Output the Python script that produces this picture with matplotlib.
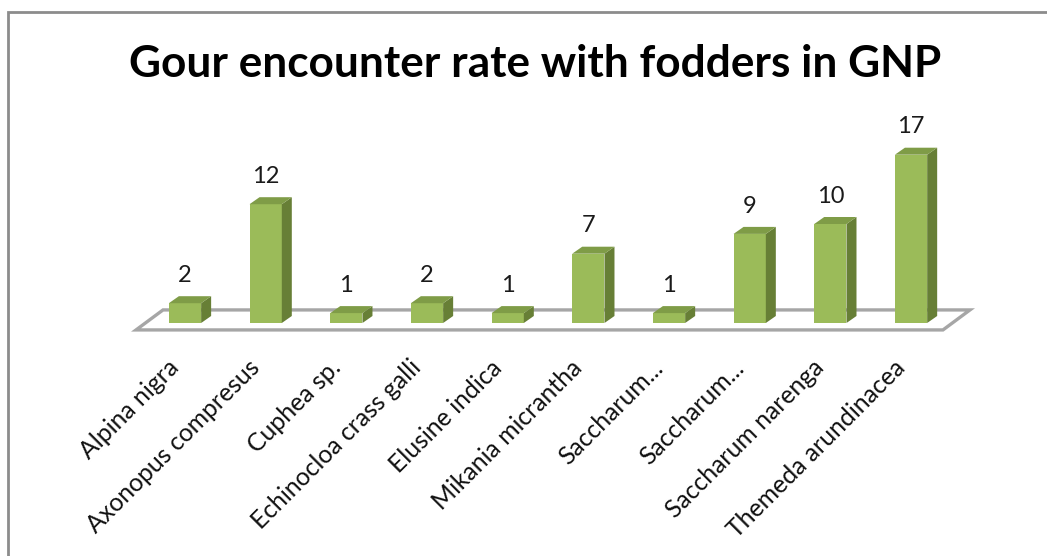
import matplotlib.pyplot as plt
from matplotlib.patches import Polygon, Rectangle
import numpy as np

# data
species = ["Alpina nigra", "Axonopus compresus", "Cuphea sp.", "Echinocloa crass galli",
           "Elusine indica", "Mikania micrantha", "Saccharum...", "Saccharum...",
           "Saccharum narenga", "Themeda arundinacea"]
encounters = [2, 12, 1, 2, 1, 7, 1, 9, 10, 17]
title = "Gour encounter rate with fodders in GNP"

plt.rcParams['font.family'] = ['Lato', 'DejaVu Sans']

W, H = 1047, 556
fig = plt.figure(figsize=(W / 100, H / 100), dpi=100)
ax = fig.add_axes([0, 0, 1, 1])

# pixel layout of the plot area -> data units
x0_px, step_px = 185.0, 80.67     # centre of first bar, spacing
base_px, unit_px = 323.0, 9.9     # baseline, pixels per encounter
ax.set_xlim(-x0_px / step_px, (W - x0_px) / step_px)
ax.set_ylim((base_px - H) / unit_px, base_px / unit_px)
ax.axis('off')

front = '#9bbb59'
side = '#677f36'
top = '#7f9c47'
bw = 0.4           # bar width in category units
ddx = 10 / step_px  # depth of bars
ddy = 7 / unit_px

n = len(encounters)
xs = np.arange(n)

# floor
fdx, fdy = 27 / step_px, 20 / unit_px
fy = -0.7
fl, fr = -0.607, n - 1 + 0.396
floor = Polygon([(fl, fy), (fr, fy), (fr + fdx, fy + fdy), (fl + fdx, fy + fdy)],
                closed=True, facecolor='white', edgecolor='#a6a6a6', lw=2.4, zorder=1)
ax.add_patch(floor)

bars = ax.bar(xs, encounters, width=bw, color=front, zorder=3, edgecolor='none')
for x, v in zip(xs, encounters):
    l, r = x - bw / 2, x + bw / 2
    ax.add_patch(Polygon([(r, 0), (r + ddx, ddy), (r + ddx, v + ddy), (r, v)],
                         closed=True, facecolor=side, edgecolor='none', zorder=3))
    ax.add_patch(Polygon([(l, v), (r, v), (r + ddx, v + ddy), (l + ddx, v + ddy)],
                         closed=True, facecolor=top, edgecolor='none', zorder=3))
    ax.text(x, v + 1.75, str(v), ha='center', va='bottom', fontsize=17, color='#1a1a1a')

for x, name in zip(xs, species):
    ax.text(x - 0.02, -3.3, name, rotation=45, ha='right', va='top', fontsize=17.8,
            color='#111111')

fig.text(535 / W, 1 - 77 / H, title, ha='center', va='baseline', fontsize=31.8,
         fontweight='bold', color='black')

# chart border (left and top only visible)
fig.add_artist(Rectangle((8 / W, -0.1), 1.2, 1 - 12 / H + 0.1, transform=fig.transFigure,
                         fill=False, edgecolor='#8c8c8c', lw=2))

fig.savefig('out.png', dpi=100)
